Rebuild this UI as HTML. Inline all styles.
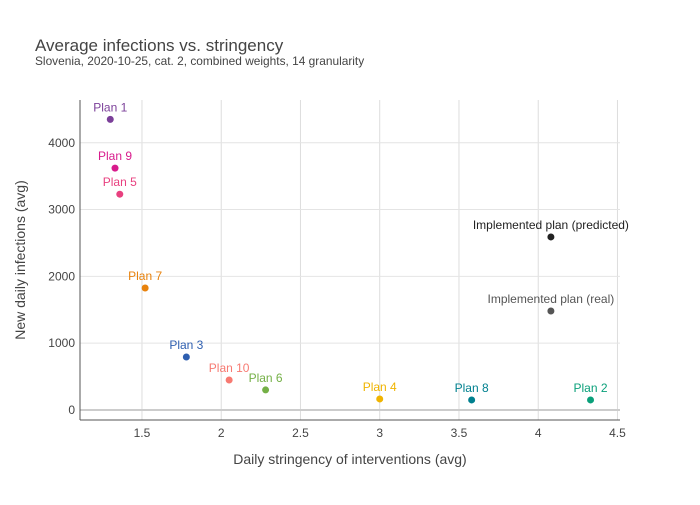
<!DOCTYPE html>
<html><head><meta charset="utf-8"><style>
body{margin:0;background:#fff}
svg text{font-family:"Liberation Sans",Arial,sans-serif}
</style></head><body>
<svg id="chart" width="700" height="500" xmlns="http://www.w3.org/2000/svg">
<rect width="700" height="500" fill="#fff"/>
<text x="35" y="51" font-size="17" fill="#444">Average infections vs. stringency</text>
<text x="35" y="65" font-size="11.9" fill="#444">Slovenia, 2020-10-25, cat. 2, combined weights, 14 granularity</text>
<g id="grid"></g>
<g id="axes"></g>
<g id="points"></g>
<text x="350" y="464" font-size="14" fill="#444" text-anchor="middle">Daily stringency of interventions (avg)</text>
<text transform="translate(25,260) rotate(-90)" font-size="14" fill="#444" text-anchor="middle">New daily infections (avg)</text>
</svg>
<script>
const labels=["Plan 1","Plan 9","Plan 5","Plan 7","Plan 3","Plan 10","Plan 6","Plan 4","Plan 8","Plan 2","Implemented plan (predicted)","Implemented plan (real)"];
const xVals=[1.30,1.33,1.36,1.52,1.78,2.05,2.28,3.0,3.58,4.33,4.08,4.08];
const yVals=[4350,3620,3230,1826,793,449,300,165,150,150,2590,1482];
const colors=["#7b3f99","#d81b8c","#e8407f","#e8820c","#2f5fb0","#f77a72","#74b046","#f0b400","#00808f","#0aa07a","#222222","#555555"];
const xTicks=[1.5,2,2.5,3,3.5,4,4.5];
const xTickLabels=["1.5","2","2.5","3","3.5","4","4.5"];
const yTicks=[0,1000,2000,3000,4000];
const yTickLabels=["0","1000","2000","3000","4000"];
const L=80,R=620,T=100,B=420;
const xMin=1.109,xMax=4.516,yMin=-150,yMax=4640;
function sx(v){return L+(v-xMin)/(xMax-xMin)*(R-L);}
function sy(v){return B-(v-yMin)/(yMax-yMin)*(B-T);}
const NS="http://www.w3.org/2000/svg";
function mk(tag,attrs,parent,text){const e=document.createElementNS(NS,tag);for(const k in attrs)e.setAttribute(k,attrs[k]);if(text!==undefined)e.textContent=text;parent.appendChild(e);return e;}
const grid=document.getElementById('grid'),axes=document.getElementById('axes'),pts=document.getElementById('points');
xTicks.forEach((t,i)=>{
 const l=mk('line',{x1:sx(t),x2:sx(t),y1:T,y2:B,stroke:'#ddd','stroke-width':1},grid);
 
 
 const tx=mk('text',{x:sx(t),y:B+17,'font-size':12,fill:'#444','text-anchor':'middle'},axes,xTickLabels[i]);
 
 
});
yTicks.forEach((t,i)=>{
 const l=mk('line',{x1:L,x2:R,y1:sy(t),y2:sy(t),stroke:t===0?'#ccc':'#e4e4e4','stroke-width':t===0?2:1},grid);
 
 
 const tx=mk('text',{x:L-5,y:sy(t)+4,'font-size':12,fill:'#444','text-anchor':'end'},axes,yTickLabels[i]);
 
 
});
const xa=mk('line',{x1:L,x2:R,y1:B,y2:B,stroke:'#555','stroke-width':1},axes);


const ya=mk('line',{x1:L,x2:L,y1:T,y2:B,stroke:'#555','stroke-width':1},axes);


labels.forEach((lab,i)=>{
 const cx=sx(xVals[i]),cy=sy(yVals[i]);
 const c=mk('circle',{cx:cx,cy:cy,r:3.5,fill:colors[i]},pts);
 
 
 const t=mk('text',{x:cx,y:cy-8,'font-size':12,fill:colors[i],'text-anchor':'middle'},pts,lab);
 
 
});
</script>
</body></html>
